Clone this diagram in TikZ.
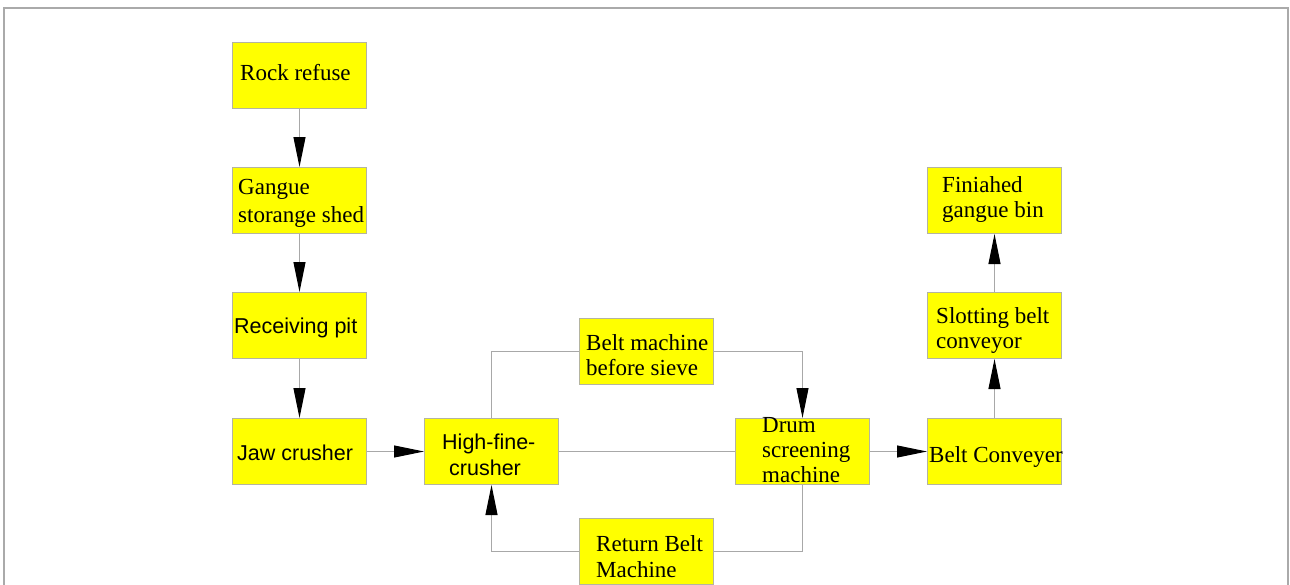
\documentclass[tikz,border=0pt]{standalone}
\usepackage{fontspec}
\setmainfont{Liberation Serif}
\newfontfamily\arl{Liberation Sans}
\usetikzlibrary{arrows.meta}
\definecolor{boxgray}{HTML}{B4B4A0}
\definecolor{linegray}{HTML}{A8A8A8}
\definecolor{framegray}{HTML}{AAAAAA}
\definecolor{boxyellow}{HTML}{FFFF00}
\tikzset{
  procbox/.style={draw=boxgray, line width=1pt, fill=boxyellow, minimum width=134pt, minimum height=66pt, inner sep=0pt, anchor=north west},
  serif/.style={inner sep=0pt, anchor=base west, font=\fontsize{23}{26}\selectfont},
  sans/.style={inner sep=0pt, anchor=base west, font=\arl\fontsize{21.5}{25}\selectfont},
  conn/.style={draw=linegray, line width=1pt},
  arr/.style={conn, -{Triangle[length=30pt, width=12pt, color=black]}}
}
\begin{document}
\begin{tikzpicture}[x=1pt, y=-1pt]
\useasboundingbox (0,0) rectangle (1290,584);
\draw[framegray, line width=1.5pt] (4,600) -- (4,8) -- (1288,8) -- (1288,600);
% boxes
\node[procbox] (rock) at (232,42) {};
\node[procbox] (gangue) at (232,167) {};
\node[procbox] (pit) at (232,292) {};
\node[procbox] (jaw) at (232,418) {};
\node[procbox] (high) at (424,418) {};
\node[procbox] (beltm) at (579,318) {};
\node[procbox] (drum) at (735,418) {};
\node[procbox] (ret) at (579,518) {};
\node[procbox] (fin) at (927,167) {};
\node[procbox] (slot) at (927,292) {};
\node[procbox] (conv) at (927,418) {};
% texts
\node[serif] (t1) at (240,80) {Rock refuse};
\node[serif] (t2a) at (238,194) {Gangue};
\node[serif] (t2b) at (238,222) {storange shed};
\node[sans] (t3) at (234,333) {Receiving pit};
\node[sans] (t4) at (237,460) {Jaw crusher};
\node[sans] (t5a) at (442,449) {High-fine-};
\node[sans] (t5b) at (449,475) {crusher};
\node[serif] (t6a) at (586,350) {Belt machine};
\node[serif] (t6b) at (586,375) {before sieve};
\node[serif] (t7a) at (762,432) {Drum};
\node[serif] (t7b) at (762,457) {screening};
\node[serif] (t7c) at (762,482) {machine};
\node[serif] (t8a) at (596,551) {Return Belt};
\node[serif] (t8b) at (596,577) {Machine};
\node[serif] (t9a) at (942,192) {Finiahed};
\node[serif] (t9b) at (942,217) {gangue bin};
\node[serif] (t10a) at (936,323) {Slotting belt};
\node[serif] (t10b) at (936,348) {conveyor};
\node[serif] (t11) at (929,462) {Belt Conveyer};
% connectors
\draw[arr] (rock.south) -- (gangue.north);
\draw[arr] (gangue.south) -- (pit.north);
\draw[arr] (pit.south) -- (jaw.north);
\draw[arr] (jaw.east) -- (high.west);
\draw[conn] (high.north) |- (beltm.west);
\draw[arr] (beltm.east) -| (drum.north);
\draw[conn] (high.east) -- (drum.west);
\draw[conn] (drum.south) |- (ret.east);
\draw[arr] (ret.west) -| (high.south);
\draw[arr] (drum.east) -- (conv.west);
\draw[arr] (conv.north) -- (slot.south);
\draw[arr] (slot.north) -- (fin.south);
\end{tikzpicture}
\end{document}
